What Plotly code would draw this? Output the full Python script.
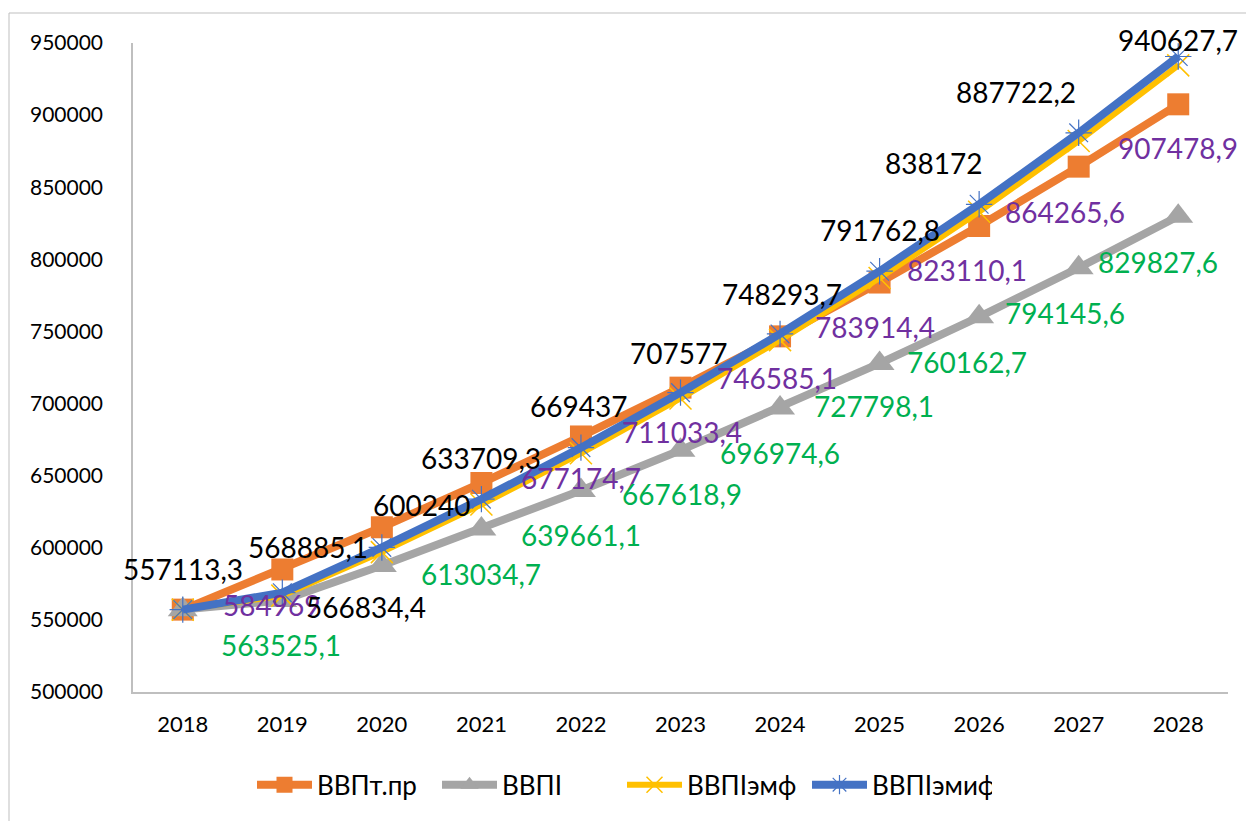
import plotly.graph_objects as go

years = ["2018", "2019", "2020", "2021", "2022", "2023", "2024", "2025", "2026", "2027", "2028"]

# Series values
vvp_tpr = [557113.3, 584969, 614217.4, 644928.3, 677174.7, 711033.4, 746585.1, 783914.4, 823110.1, 864265.6, 907478.9]
vvp_i = [557113.3, 563525.1, 587700, 613034.7, 639661.1, 667618.9, 696974.6, 727798.1, 760162.7, 794145.6, 829827.6]
vvp_iemf = [557113.3, 566834.4, 597000, 630000, 665500, 703500, 744000, 787000, 833000, 882000, 934500]
vvp_iemif = [557113.3, 568885.1, 600240, 633709.3, 669437, 707577, 748293.7, 791762.8, 838172, 887722.2, 940627.7]

# Which data labels are shown in the original
show_tpr = [False, True, False, False, True, True, True, True, True, True, True]
show_i = [False, True, False, True, True, True, True, True, True, True, True]
show_iemf = [False, True, False, False, False, False, False, False, False, False, False]
show_iemif = [True] * 11

# Label pixel offsets (dx, dy screen px)
off_tpr = [(0, 40), (-11, 36), (0, 40), (0, 40), (0, 42), (1, 44), (-3, 42), (-5, 44), (-12, 44), (-14, 45), (0, 44)]
off_i = [(0, 44), (-1, 45), (0, 44), (0, 45), (0, 44), (1, 44), (0, 45), (-6, 43), (-12, 45), (-14, 45), (-20, 46)]
off_iemf = [(0, 0), (84, 11)] + [(0, 0)] * 9
off_iemif = [(0, -41), (26, -46), (40, -42), (0, -41), (-2, -42), (-2, -40), (2, -40), (0, -41), (-46, -41), (-63, -41), (0, -17)]

FONT = "Lato, 'Open Sans', sans-serif"


def fmt(v):
    s = f"{v:.1f}"
    if s.endswith(".0"):
        s = s[:-2]
    return s.replace(".", ",")


fig = go.Figure()

series = [
    ("ВВПт.пр", vvp_tpr, "#ED7D31", 8, dict(symbol="square", size=22, color="#ED7D31")),
    ("ВВПI", vvp_i, "#A5A5A5", 8, dict(symbol="triangle-up", size=26, color="#A5A5A5")),
    ("ВВПIэмф", vvp_iemf, "#FFC000", 6, dict(symbol="x-thin-open", size=22, color="#FFC000", line=dict(width=1.5, color="#FFC000"))),
    ("ВВПIэмиф", vvp_iemif, "#4472C4", 8, dict(symbol="asterisk-open", size=22, color="#4472C4", line=dict(width=1.2, color="#4472C4"))),
]

for name, vals, color, lw, marker in series:
    fig.add_trace(go.Scatter(
        x=years, y=vals, name=name, mode="lines+markers",
        line=dict(color=color, width=lw),
        marker=marker,
        cliponaxis=False,
    ))

label_sets = [
    (vvp_tpr, show_tpr, off_tpr, "#7030A0"),
    (vvp_i, show_i, off_i, "#00B050"),
    (vvp_iemf, show_iemf, off_iemf, "#000000"),
    (vvp_iemif, show_iemif, off_iemif, "#000000"),
]
for vals, shows, offs, col in label_sets:
    for idx, (v, s, (dx, dy)) in enumerate(zip(vals, shows, offs)):
        if not s:
            continue
        fig.add_annotation(
            x=idx, y=v, xref="x", yref="y", text=fmt(v), showarrow=False,
            xshift=dx, yshift=-dy,
            font=dict(family=FONT, size=28, color=col),
        )

# outer chart border
fig.add_shape(type="rect", xref="paper", yref="paper",
              x0=(9 - 133) / 1095, x1=1.2, y0=-0.5, y1=(692 - 13) / 649,
              line=dict(color="#BFBFBF", width=1), fillcolor="rgba(0,0,0,0)", layer="below")

fig.update_layout(
    width=1246, height=821,
    margin=dict(l=133, r=18, t=43, b=129),
    paper_bgcolor="white", plot_bgcolor="white",
    font=dict(family=FONT, color="#000000"),
    showlegend=True,
    legend=dict(orientation="h", x=(252 - 133) / 1095, xanchor="left", y=-0.143, yanchor="middle",
                font=dict(family=FONT, size=26, color="#000000"), itemwidth=55,
                entrywidth=115, entrywidthmode="pixels",
                bgcolor="rgba(0,0,0,0)"),
    xaxis=dict(type="category", range=[-0.5, 10.5], showline=True, linecolor="#BFBFBF", linewidth=1.5,
               showgrid=False, zeroline=False, ticks="outside", ticklen=12, tickcolor="rgba(0,0,0,0)",
               tickfont=dict(family=FONT, size=22, color="#000000")),
    yaxis=dict(range=[500000, 950000], dtick=50000, showline=True, linecolor="#BFBFBF", linewidth=1.5,
               showgrid=False, zeroline=False, ticks="outside", ticklen=24, tickcolor="rgba(0,0,0,0)",
               tickformat="d", tickfont=dict(family=FONT, size=21, color="#000000")),
)

fig.write_html("out.html", config={"displayModeBar": False},
               post_script="document.body.style.margin='0';")
